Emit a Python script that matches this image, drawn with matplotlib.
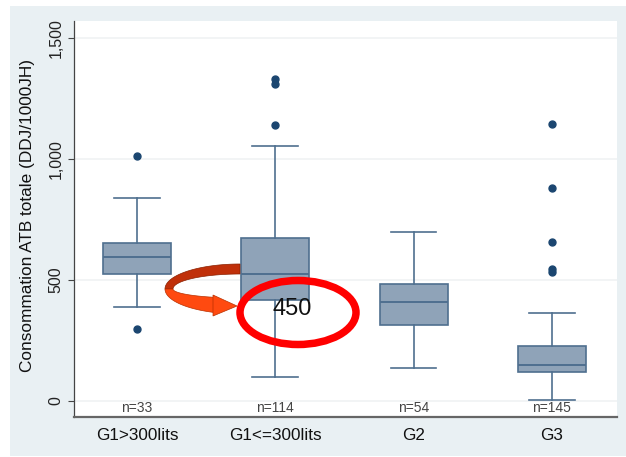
import numpy as np
import matplotlib
matplotlib.use("Agg")
import matplotlib.pyplot as plt
import matplotlib.transforms as mtransforms
from matplotlib.patches import Rectangle, Ellipse, Polygon

# ---------------- data ----------------
categories = ["G1>300lits", "G1<=300lits", "G2", "G3"]
n_labels = ["n=33", "n=114", "n=54", "n=145"]
whislo = [388, 99, 136, 4]
q1 = [525, 417, 314, 120]
med = [595, 525, 409, 149]
q3 = [653, 673, 483, 227]
whishi = [839, 1054, 698, 364]
outliers = [[1012, 298], [1331, 1310, 1140], [], [1144, 880, 657, 545, 535]]
yticks = [0, 500, 1000, 1500]
ytick_labels = ["0", "500", "1,000", "1,500"]
annot_value = "450"

W, H = 626, 457
fig = plt.figure(figsize=(W / 100, H / 100), dpi=100)
fig.patch.set_facecolor("white")
font = ["Liberation Sans", "DejaVu Sans"]
plt.rcParams["font.family"] = font

# pixel transform (x right, y down from top-left)
pix = mtransforms.Affine2D().scale(1 / W, -1 / H).translate(0, 1) + fig.transFigure

# outer panel
fig.patches.append(Rectangle((10, 6), 616, 450, transform=pix, facecolor="#E9F0F3",
                             edgecolor="none", zorder=-10))

ax = fig.add_axes([74 / W, 1 - 417 / H, (617 - 74) / W, (417 - 21) / H])
ax.set_zorder(1)
ax.set_facecolor("white")
ax.set_xlim(0.545, 4.47)
ax.set_ylim(-66, 1570)

stats = []
for i in range(len(categories)):
    stats.append(dict(whislo=whislo[i], q1=q1[i], med=med[i], q3=q3[i],
                      whishi=whishi[i], fliers=outliers[i], label=categories[i]))

edge = "#4F6F8F"
ax.bxp(stats, positions=range(1, 5), widths=0.49, capwidths=0.33, patch_artist=True,
       boxprops=dict(facecolor="#8FA3B8", edgecolor=edge, linewidth=1.2),
       medianprops=dict(color=edge, linewidth=1.4),
       whiskerprops=dict(color=edge, linewidth=1.2),
       capprops=dict(color=edge, linewidth=1.2),
       flierprops=dict(marker="o", markerfacecolor="#1B4670", markeredgecolor="#1B4670",
                       markersize=5.0))

ax.set_yticks(yticks)
ax.set_yticklabels(ytick_labels, rotation=90, va="center", fontsize=11.5, color="#222222")
ax.yaxis.grid(True, color="#F0F2F4", linewidth=1.2)
ax.set_axisbelow(True)
ax.tick_params(axis="y", length=4.5, width=0.8, color="#444444", pad=3)
ax.tick_params(axis="x", length=0, pad=8, labelsize=12.3)
ax.set_xticks(range(1, 5))
ax.set_xticklabels(categories, color="#111111")
ax.set_ylabel("Consommation ATB totale (DDJ/1000JH)", fontsize=12.4, color="#111111")
ax.yaxis.set_label_coords((35 - 74) / 543, (417 - 216) / 396)

for s in ["top", "right"]:
    ax.spines[s].set_visible(False)
ax.spines["left"].set_color("#444444")
ax.spines["left"].set_linewidth(0.9)
ax.spines["bottom"].set_color("#666666")
ax.spines["bottom"].set_linewidth(1.6)

for i, lab in enumerate(n_labels):
    ax.text(i + 1, -27, lab, ha="center", va="center", fontsize=10, color="#444444")

# ---------------- annotations: curved arrow, ellipse, value ----------------
cx, cy = 240, 289
def ell(rx, ry, t0, t1, n=60):
    t = np.radians(np.linspace(t0, t1, n))
    return np.column_stack([cx + rx * np.cos(t), cy - ry * np.sin(t)])

outer_top = ell(75, 25, 90, 180)
inner_top = ell(67, 15, 180, 90)
fig.patches.append(Polygon(np.vstack([outer_top, inner_top]), closed=True, transform=pix,
                           facecolor="#C0300A", edgecolor="#8A2000", linewidth=0.5, zorder=5))
outer_bot = ell(75, 25, 180, 249.7)
inner_bot = ell(67, 9, 247.2, 180)
fig.patches.append(Polygon(np.vstack([outer_bot, inner_bot]), closed=True, transform=pix,
                           facecolor="#FF4A10", edgecolor="#B83000", linewidth=0.5, zorder=5))
fig.patches.append(Polygon([[213, 295], [237, 306], [213, 316]], closed=True, transform=pix,
                           facecolor="#FF4A10", edgecolor="#B83000", linewidth=0.5, zorder=5))

fig.patches.append(Ellipse((298, 312.5), 116, 64, transform=pix, facecolor="none",
                           edgecolor="#FF0000", linewidth=5.4, zorder=6))
fig.text(292 / W, 1 - 309 / H, annot_value, ha="center", va="center", fontsize=17,
         color="#111111", zorder=7)

fig.savefig("out.png", dpi=100)
